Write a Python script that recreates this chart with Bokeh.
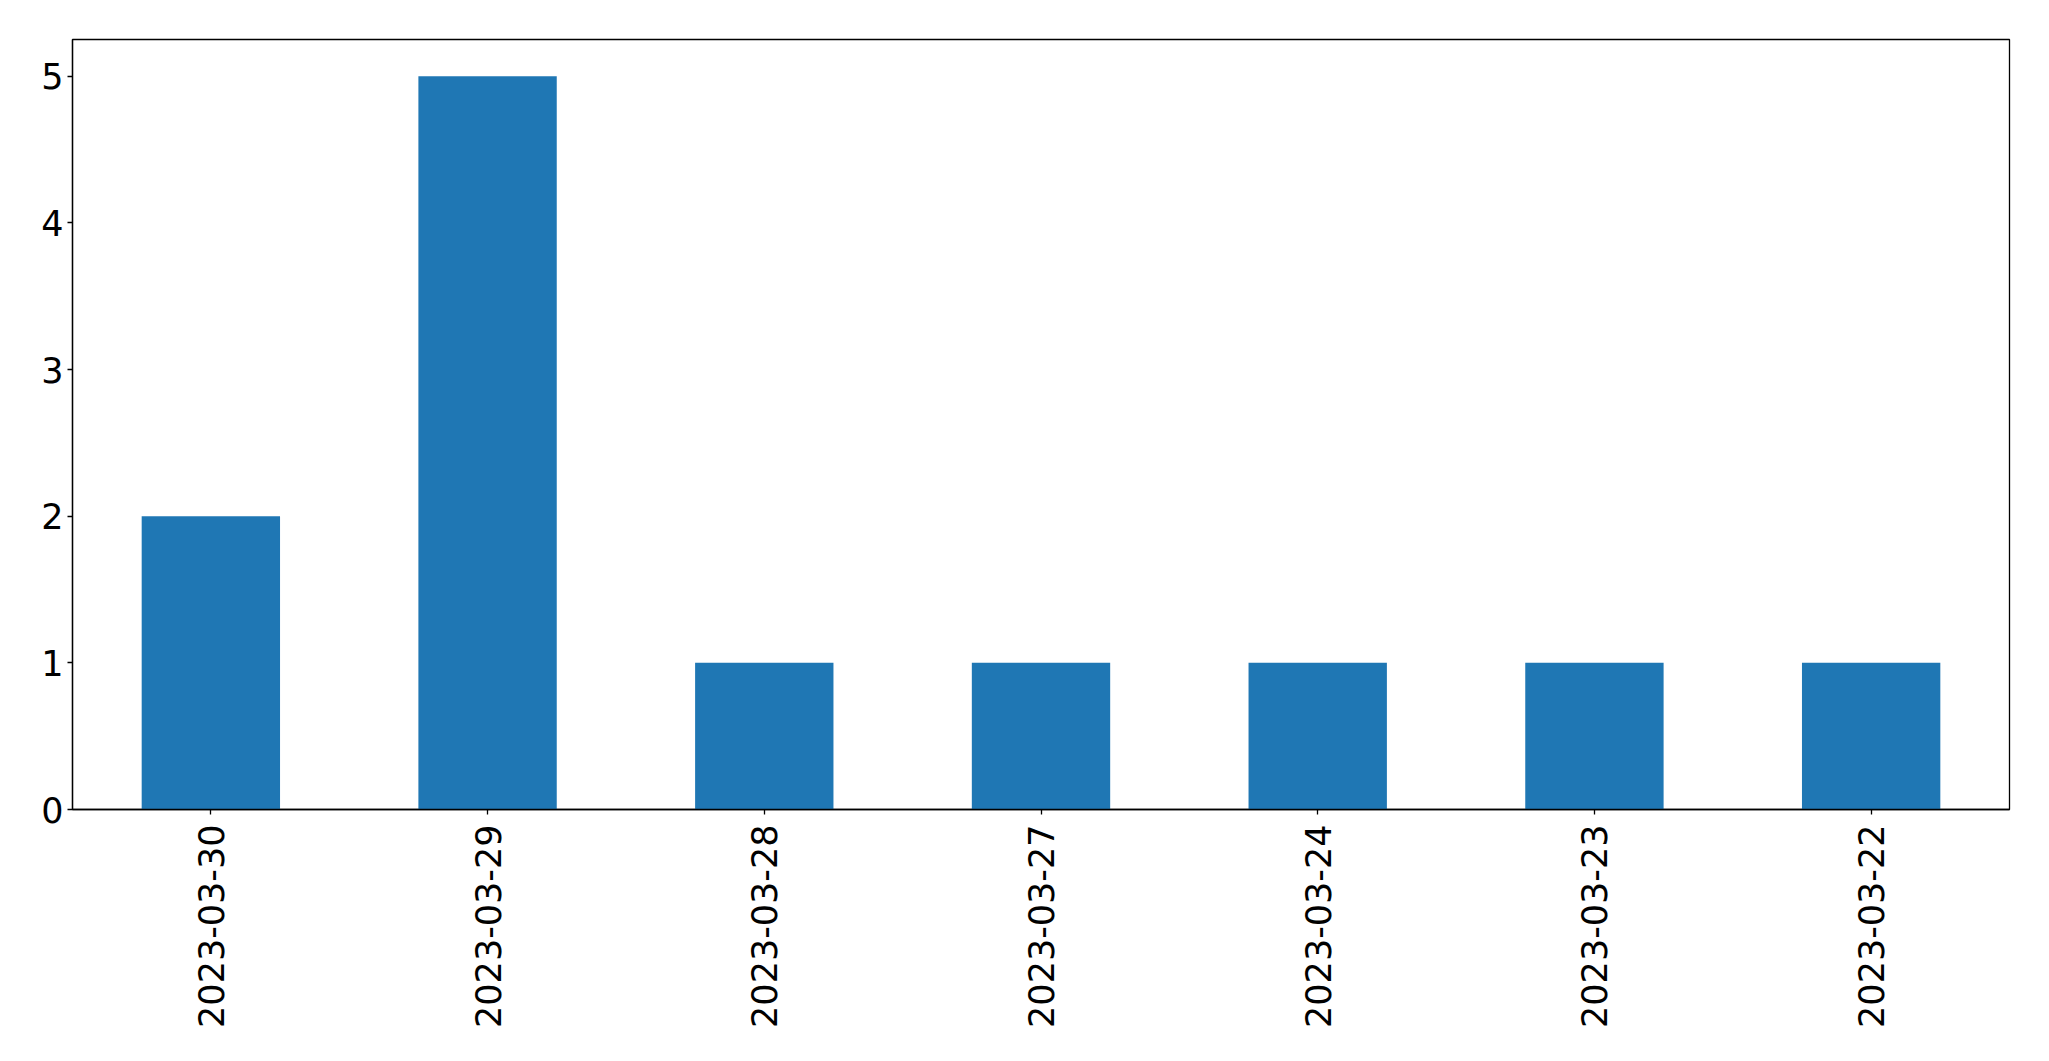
import math
from bokeh.plotting import figure
from bokeh.models import ColumnDataSource, FactorRange, Range1d, FixedTicker
from bokeh.embed import file_html
from bokeh.resources import INLINE

dates = ["2023-03-30", "2023-03-29", "2023-03-28", "2023-03-27", "2023-03-24", "2023-03-23", "2023-03-22"]
counts = [2, 5, 1, 1, 1, 1, 1]
y_ticks = [0, 1, 2, 3, 4, 5]

source = ColumnDataSource(data=dict(date=dates, count=counts))

p = figure(
    width=2040, height=1055,
    x_range=FactorRange(*dates, range_padding=0),
    y_range=Range1d(0, 5.25),
    output_backend="svg", toolbar_location=None,
    min_border_left=72, min_border_right=31, min_border_top=39, min_border_bottom=246,
)
p.vbar(x="date", top="count", width=0.5, source=source, fill_color="#1f77b4", line_color=None)

p.xgrid.visible = False
p.ygrid.visible = False
p.outline_line_color = "black"
p.outline_line_width = 1.3
p.outline_line_alpha = 1

font = "DejaVu Sans"
for ax in (p.xaxis[0], p.yaxis[0]):
    ax.axis_line_color = "black"
    ax.axis_line_width = 1.3
    ax.major_tick_line_color = "black"
    ax.major_tick_line_width = 1.3
    ax.major_tick_out = 5
    ax.major_tick_in = 0
    ax.minor_tick_line_color = None
    ax.major_label_text_font = font
    ax.major_label_text_font_size = "35px"
    ax.major_label_text_color = "black"

p.yaxis[0].ticker = FixedTicker(ticks=y_ticks)
p.yaxis[0].major_label_standoff = 4
p.xaxis[0].major_label_orientation = math.pi / 2
p.xaxis[0].major_label_standoff = 10
p.xaxis[0].group_text_font_size = "0px"

html = file_html(p, INLINE)
open("out.html", "w").write(html)
